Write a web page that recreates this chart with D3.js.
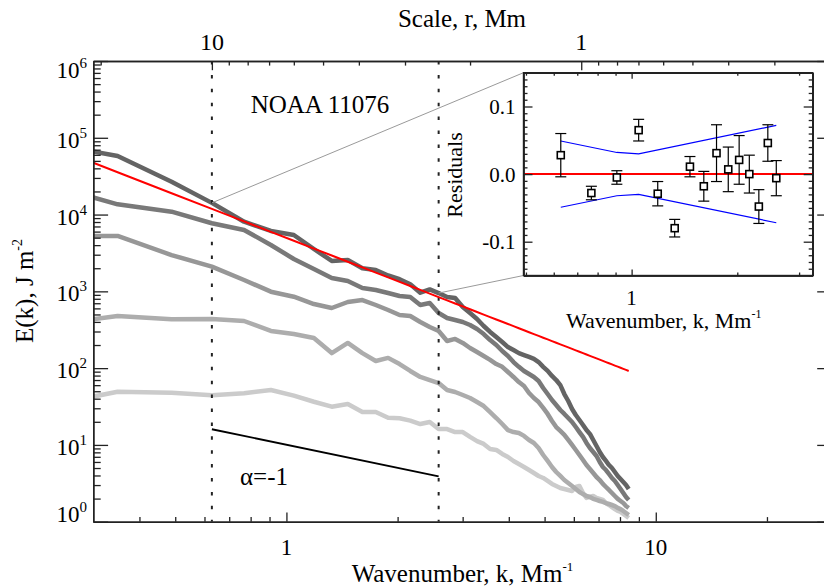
<!DOCTYPE html>
<html>
<head>
<meta charset="utf-8">
<script src="https://cdn.jsdelivr.net/npm/d3@7"></script>
<style>
  html, body { margin: 0; padding: 0; background: #fff; }
  svg { display: block; font-family: "Liberation Serif", "DejaVu Serif", serif; }
</style>
</head>
<body>
<svg id="chart" width="824" height="588"></svg>
<script>
// Wavenumber grid, Mm^-1
const kGrid = [0.2094, 0.3491, 0.4887, 0.6283, 0.7679, 0.9076, 1.0472, 1.1868, 1.3265, 1.4661,
  1.6057, 1.7453, 1.8850, 2.0246, 2.1642, 2.3038, 2.4435, 2.5831, 2.7227, 2.8623,
  3.0020, 3.1416, 3.2812, 3.4208, 3.5605, 3.7001, 3.8397, 3.9794, 4.1190, 4.2586,
  4.3982, 4.5379, 4.6775, 4.8171, 4.9567, 5.0964, 5.2360, 5.3756, 5.5153, 5.6549,
  5.7945, 5.9341, 6.0738, 6.2134, 6.3530, 6.4926, 6.6323, 6.7719, 6.9115, 7.0511,
  7.1908, 7.3304, 7.4700, 7.6096, 7.7493, 7.8889, 8.0285, 8.1681, 8.3078, 8.4474];

// Energy spectra E(k), J m^-2, darkest to lightest
const spec1 = [90800, 58000, 26800, 14200, 8070, 6110, 5420, 3560, 2490, 2560,
  2000, 1900, 1610, 1440, 1240, 960, 1060, 950, 844, 819,
  625, 522, 436, 354, 296, 254, 219, 188, 172, 157,
  148, 140, 132, 120, 104, 92, 79, 70, 60, 46,
  37.3, 29.4, 24.5, 21.1, 18.2, 15.6, 13.9, 11.6, 9.68, 8.09,
  6.96, 6.18, 5.47, 5.00, 4.44, 3.94, 3.60, 3.29, 3.01, 2.67];
const spec2 = [27400, 13600, 10900, 7700, 6300, 4020, 2640, 1955, 1493, 1364,
  1106, 1042, 952, 870, 844, 664, 705, 522, 450, 424,
  399, 365, 323, 278, 232, 200, 167, 144, 120, 104,
  91.8, 83.9, 76.7, 68, 55.1, 46.0, 38.5, 33.1, 28.5, 25.3,
  22.4, 19.9, 17.1, 14.7, 12.7, 10.6, 9.12, 8.09, 7.17, 6.00,
  5.16, 4.71, 4.18, 3.71, 3.39, 3.01, 2.67, 2.36, 2.10, 1.92];
const spec3 = [5260, 5260, 2970, 2094, 1406, 990, 851, 684, 607, 727,
  771, 664, 572, 492, 478, 399, 343, 305, 226, 240,
  213, 183, 162, 144, 128, 113, 104, 89.1, 76.7, 65.9,
  58.5, 47.4, 40.8, 36.2, 30.3, 25.3, 20.5, 17.1, 15.2, 13.5,
  11.6, 9.98, 8.59, 7.39, 6.37, 5.47, 4.86, 4.31, 3.82, 3.49,
  3.10, 2.83, 2.59, 2.36, 2.16, 1.98, 1.86, 1.75, 1.60, 1.51];
const spec4 = [343, 478, 432, 436, 411, 305, 278, 247, 157, 213,
  157, 124, 136, 113, 91.8, 76.7, 70.0, 64.0, 51.9, 48.9,
  44.7, 40.8, 36.2, 32.1, 26.8, 22.4, 18.7, 15.6, 14.7, 14.3,
  13.1, 11.6, 10.6, 9.12, 7.39, 6.18, 5.16, 4.44, 3.94, 3.49,
  3.19, 2.92, 2.67, 2.44, 2.29, 2.16, 2.10, 1.98, 1.92, 1.86,
  1.81, 1.75, 1.70, 1.65, 1.60, 1.51, 1.46, 1.38, 1.30, 1.22];
const spec5 = [30.3, 49.3, 47.9, 44.3, 47.0, 51.9, 43.8, 36.5, 31.5, 34.1,
  26.8, 26.8, 22.6, 22.2, 20.7, 18.7, 19.9, 16.1, 16.1, 14.7,
  14.7, 12.7, 11.2, 10.3, 8.85, 8.59, 7.62, 6.96, 6.18, 5.64,
  5.16, 4.71, 4.31, 3.94, 3.71, 3.39, 3.10, 2.92, 2.75, 2.67,
  2.59, 2.51, 2.83, 2.92, 2.36, 2.04, 2.10, 2.16, 2.04, 1.98,
  1.92, 1.75, 1.65, 1.55, 1.46, 1.38, 1.34, 1.26, 1.19, 1.12];
const seriesColors = ["#646464", "#797979", "#979797", "#adadad", "#cbcbcb"];

// Power-law fit to the top spectrum, and the reference slope
const fitAmp = 4970, fitSlope = -1.87;
const alphaK = [0.6283, 2.5831], alphaE0 = 16, alphaSlope = -1;

// Fitting range bounds (k = 2*pi/r)
const kLow = 0.6283, kHigh = 2.5831;

// Residuals of the fit
const residK = [0.6283, 0.7679, 0.9076, 1.0472, 1.1868, 1.3265, 1.4661, 1.6057,
  1.7453, 1.8850, 2.0246, 2.1642, 2.3038, 2.4435, 2.5831];
const resid = [0.028, -0.028, -0.005, 0.065, -0.029, -0.080, 0.011, -0.018,
  0.031, 0.007, 0.021, 0.000, -0.048, 0.046, -0.006];
const residErr = [0.032, 0.010, 0.010, 0.016, 0.018, 0.013, 0.015, 0.022,
  0.042, 0.033, 0.036, 0.028, 0.025, 0.027, 0.026];
const bandK = [0.6283, 0.9076, 1.0472, 2.5831];
const band = [0.049, 0.032, 0.030, 0.072];

// Tick values
const xMajor = [1, 10];
const xMinor = [0.4, 0.5, 0.6, 0.7, 0.8, 0.9, 2, 3, 4, 5, 6, 7, 8, 9, 20, 30];
const rMajor = [10, 1];
const rMinor = [20, 9, 8, 7, 6, 5, 4, 3, 2, 0.9, 0.8, 0.7, 0.6, 0.5, 0.4, 0.3];
const yExp = [0, 1, 2, 3, 4, 5, 6];
const yMinor = [];
for (let p = 0; p < 6; p++) for (let m = 2; m <= 9; m++) yMinor.push(m * Math.pow(10, p));
const riMajor = [-0.1, 0.0, 0.1];
const riMinor = [-0.15, -0.14, -0.13, -0.12, -0.11, -0.09, -0.08, -0.07, -0.06, -0.05, -0.04, -0.03, -0.02, -0.01,
  0.01, 0.02, 0.03, 0.04, 0.05, 0.06, 0.07, 0.08, 0.09, 0.11, 0.12, 0.13, 0.14, 0.15];
const kiMajor = [1];
const kiMinor = [0.5, 0.6, 0.7, 0.8, 0.9, 2, 3];

const svg = d3.select("#chart");
const plot = { left: 93.3, right: 832, top: 61, bottom: 521.7 };
const x = d3.scaleLog().domain([0.3, 30]).range([plot.left, plot.right]);
const y = d3.scaleLog().domain([1, 1e6]).range([plot.bottom, plot.top]);
const rScale = d3.scaleLog().domain([2 * Math.PI / 0.3, 2 * Math.PI / 30]).range([plot.left, plot.right]);
const axisColor = "#222";

svg.append("defs").append("clipPath").attr("id", "plotClip")
  .append("rect").attr("x", plot.left).attr("y", plot.top)
  .attr("width", plot.right - plot.left).attr("height", plot.bottom - plot.top);

const main = svg.append("g").attr("clip-path", "url(#plotClip)");
const line = d3.line().x(d => x(d[0])).y(d => y(d[1]));

// Spectra, lightest drawn first
const spectra = [spec1, spec2, spec3, spec4, spec5];
for (let i = spectra.length - 1; i >= 0; i--) {
  main.append("path")
    .datum(kGrid.map((k, j) => [k, spectra[i][j]]))
    .attr("d", line)
    .attr("fill", "none")
    .attr("stroke", seriesColors[i])
    .attr("stroke-width", 4.5)
    .attr("stroke-linejoin", "round");
}

// Fitting range markers
[kLow, kHigh].forEach(k => {
  main.append("line")
    .attr("x1", x(k)).attr("x2", x(k))
    .attr("y1", plot.top).attr("y2", plot.bottom)
    .attr("stroke", "#222").attr("stroke-width", 2)
    .attr("stroke-dasharray", "3.5 10.4");
});

// Power-law fit
main.append("path")
  .datum(kGrid.map(k => [k, fitAmp * Math.pow(k, fitSlope)]))
  .attr("d", line)
  .attr("fill", "none").attr("stroke", "#ff0000").attr("stroke-width", 2);

// Reference slope alpha = -1
main.append("path")
  .datum(alphaK.map(k => [k, alphaE0 * Math.pow(k / alphaK[0], alphaSlope)]))
  .attr("d", line)
  .attr("fill", "none").attr("stroke", "#000").attr("stroke-width", 1.8);

// Axes of the main panel
function styleAxis(g) {
  g.selectAll("path.domain").attr("stroke", axisColor).attr("stroke-width", 1.4);
  g.selectAll(".tick line").attr("stroke", axisColor).attr("stroke-width", 1.3);
  g.selectAll(".tick text").remove();
}
const axesG = svg.append("g");
axesG.append("g").attr("transform", `translate(0,${plot.bottom})`)
  .call(d3.axisBottom(x).tickValues(xMajor).tickSize(-9.2).tickSizeOuter(0)).call(styleAxis);
axesG.append("g").attr("transform", `translate(0,${plot.bottom})`)
  .call(d3.axisBottom(x).tickValues(xMinor).tickSize(-4.6).tickSizeOuter(0)).call(styleAxis);
axesG.append("g").attr("transform", `translate(0,${plot.top})`)
  .call(d3.axisTop(rScale).tickValues(rMajor).tickSize(-9.2).tickSizeOuter(0)).call(styleAxis);
axesG.append("g").attr("transform", `translate(0,${plot.top})`)
  .call(d3.axisTop(rScale).tickValues(rMinor).tickSize(-4.6).tickSizeOuter(0)).call(styleAxis);
axesG.append("g").attr("transform", `translate(${plot.left},0)`)
  .call(d3.axisLeft(y).tickValues(yExp.map(p => Math.pow(10, p))).tickSize(-14.8).tickSizeOuter(0)).call(styleAxis);
axesG.append("g").attr("transform", `translate(${plot.left},0)`)
  .call(d3.axisLeft(y).tickValues(yMinor).tickSize(-7.4).tickSizeOuter(0)).call(styleAxis);
axesG.append("g").attr("transform", `translate(${plot.right},0)`)
  .call(d3.axisRight(y).tickValues(yExp.map(p => Math.pow(10, p))).tickSize(-14.8).tickSizeOuter(0)).call(styleAxis);
axesG.append("g").attr("transform", `translate(${plot.right},0)`)
  .call(d3.axisRight(y).tickValues(yMinor).tickSize(-7.4).tickSizeOuter(0)).call(styleAxis);

// Tick labels
const labels = svg.append("g").attr("fill", "#000");
yExp.forEach(p => {
  const ty = y(Math.pow(10, p));
  const base = Math.min(plot.bottom, Math.max(plot.top + 16.7, ty + 10));
  const t = labels.append("text").attr("x", 87).attr("y", base)
    .attr("text-anchor", "end").attr("font-size", 23);
  t.append("tspan").text("10");
  t.append("tspan").attr("font-size", 15).attr("dy", -10).text(String(p));
});
xMajor.forEach(v => {
  labels.append("text").attr("x", x(v)).attr("y", 555)
    .attr("text-anchor", "middle").attr("font-size", 23).text(String(v));
});
rMajor.forEach(v => {
  labels.append("text").attr("x", rScale(v)).attr("y", 50)
    .attr("text-anchor", "middle").attr("font-size", 24).text(String(v));
});

// Axis titles and annotations
labels.append("text").attr("x", 462).attr("y", 27).attr("text-anchor", "middle")
  .attr("font-size", 25).text("Scale, r, Mm");
const bt = labels.append("text").attr("x", 462.5).attr("y", 582).attr("text-anchor", "middle")
  .attr("font-size", 25);
bt.append("tspan").text("Wavenumber, k, Mm");
bt.append("tspan").attr("font-size", 13).attr("dy", -11).text("-1");
const lt = labels.append("text").attr("transform", "translate(33,291) rotate(-90)")
  .attr("text-anchor", "middle").attr("font-size", 25);
lt.append("tspan").text("E(k), J m");
lt.append("tspan").attr("font-size", 14).attr("dy", -11).text("-2");
labels.append("text").attr("x", 250.7).attr("y", 113.3).attr("font-size", 25).text("NOAA 11076");
labels.append("text").attr("x", 240).attr("y", 485).attr("font-size", 25).text("α=-1");

// Inset: residuals of the fit
const inset = { left: 523.5, right: 812.7, top: 72.7, bottom: 275.5 };
const xi = d3.scaleLog().domain([0.492, 3.28]).range([inset.left, inset.right]);
const yi = d3.scaleLinear().domain([-0.15, 0.15]).range([inset.bottom, inset.top]);

// Connectors from the fitting range to the inset
const conn = svg.append("g").attr("stroke", "#9a9a9a").attr("stroke-width", 1);
conn.append("line").attr("x1", x(kGrid[3])).attr("y1", y(spec1[3]))
  .attr("x2", inset.left).attr("y2", inset.top);
conn.append("line").attr("x1", x(kGrid[17])).attr("y1", y(spec1[17]))
  .attr("x2", inset.left).attr("y2", inset.bottom);

const ins = svg.append("g");
ins.append("rect").attr("x", inset.left).attr("y", inset.top)
  .attr("width", inset.right - inset.left).attr("height", inset.bottom - inset.top)
  .attr("fill", "#fff");
ins.append("line").attr("x1", inset.left).attr("x2", inset.right)
  .attr("y1", yi(0)).attr("y2", yi(0))
  .attr("stroke", "#ff0000").attr("stroke-width", 2);

const bandLine = d3.line().x(d => xi(d[0])).y(d => yi(d[1]));
[1, -1].forEach(s => {
  ins.append("path").datum(bandK.map((k, i) => [k, s * band[i]]))
    .attr("d", bandLine).attr("fill", "none")
    .attr("stroke", "#0000ff").attr("stroke-width", 1.2);
});

const pts = ins.append("g").attr("stroke", "#000");
residK.forEach((k, i) => {
  const cx = xi(k), y0 = yi(resid[i] - residErr[i]), y1 = yi(resid[i] + residErr[i]);
  pts.append("line").attr("x1", cx).attr("x2", cx).attr("y1", y0).attr("y2", y1).attr("stroke-width", 1.2);
  [y0, y1].forEach(cy => pts.append("line").attr("x1", cx - 5.5).attr("x2", cx + 5.5)
    .attr("y1", cy).attr("y2", cy).attr("stroke-width", 1.2));
  pts.append("rect").attr("x", cx - 3.5).attr("y", yi(resid[i]) - 3.5)
    .attr("width", 7).attr("height", 7).attr("fill", "#fff").attr("stroke-width", 1.6);
});

ins.append("rect").attr("x", inset.left).attr("y", inset.top)
  .attr("width", inset.right - inset.left).attr("height", inset.bottom - inset.top)
  .attr("fill", "none").attr("stroke", axisColor).attr("stroke-width", 1.4);

ins.append("g").attr("transform", `translate(${inset.left},0)`)
  .call(d3.axisLeft(yi).tickValues(riMajor).tickSize(-9).tickSizeOuter(0)).call(styleAxis);
ins.append("g").attr("transform", `translate(${inset.left},0)`)
  .call(d3.axisLeft(yi).tickValues(riMinor).tickSize(-4).tickSizeOuter(0)).call(styleAxis);
ins.append("g").attr("transform", `translate(${inset.right},0)`)
  .call(d3.axisRight(yi).tickValues(riMajor).tickSize(-9).tickSizeOuter(0)).call(styleAxis);
ins.append("g").attr("transform", `translate(${inset.right},0)`)
  .call(d3.axisRight(yi).tickValues(riMinor).tickSize(-4).tickSizeOuter(0)).call(styleAxis);
ins.append("g").attr("transform", `translate(0,${inset.bottom})`)
  .call(d3.axisBottom(xi).tickValues(kiMajor).tickSize(-6).tickSizeOuter(0)).call(styleAxis);
ins.append("g").attr("transform", `translate(0,${inset.bottom})`)
  .call(d3.axisBottom(xi).tickValues(kiMinor).tickSize(-3).tickSizeOuter(0)).call(styleAxis);
ins.append("g").attr("transform", `translate(0,${inset.top})`)
  .call(d3.axisTop(xi).tickValues(kiMajor).tickSize(-6).tickSizeOuter(0)).call(styleAxis);
ins.append("g").attr("transform", `translate(0,${inset.top})`)
  .call(d3.axisTop(xi).tickValues(kiMinor).tickSize(-3).tickSizeOuter(0)).call(styleAxis);

riMajor.forEach(v => {
  labels.append("text").attr("x", inset.left - 8).attr("y", yi(v) + 7.6)
    .attr("text-anchor", "end").attr("font-size", 21).text(v.toFixed(1));
});
kiMajor.forEach(v => {
  labels.append("text").attr("x", xi(v)).attr("y", 305)
    .attr("text-anchor", "middle").attr("font-size", 21).text(String(v));
});
labels.append("text").attr("transform", "translate(461.7,175) rotate(-90)")
  .attr("text-anchor", "middle").attr("font-size", 22).text("Residuals");
const it = labels.append("text").attr("x", 663.7).attr("y", 328).attr("text-anchor", "middle")
  .attr("font-size", 22);
it.append("tspan").text("Wavenumber, k, Mm");
it.append("tspan").attr("font-size", 12).attr("dy", -10).text("-1");
</script>
</body>
</html>
